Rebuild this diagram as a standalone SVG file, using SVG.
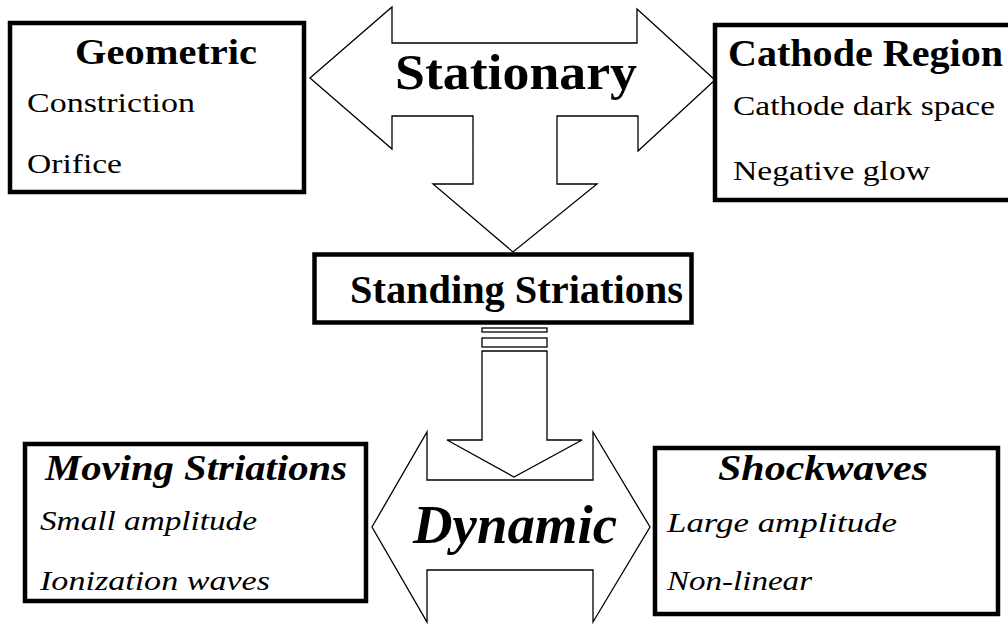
<svg xmlns="http://www.w3.org/2000/svg" width="1008" height="626" viewBox="0 0 1008 626">
<style>
.box{fill:#fff;stroke:#000;stroke-width:4.5}
.arr{fill:#fff;stroke:#000;stroke-width:1.3;stroke-linejoin:miter}
text{font-family:'Liberation Serif',serif;fill:#000}
.b{font-weight:bold}
.i{font-style:italic}
</style>
<rect width="1008" height="626" fill="#fff"/>
<g id="connectors" font-family="Liberation Serif, serif">
  <polygon class="arr" points="310,78 392,7 392,43 637,43 637,9 715,80 638,151 638,116 557,116 557,184 597,184 513,252 433,184 473,184 473,116 392,116 392,149"/>
  <text class="b" x="395" y="89" font-size="50" textLength="242" lengthAdjust="spacingAndGlyphs">Stationary</text>
  <polygon class="arr" points="372,527 427,432 427,480 593,480 593,432 650,527 593,622 593,570 427,570 427,622"/>
  <text class="b i" x="413" y="543" font-size="54" textLength="204" lengthAdjust="spacingAndGlyphs">Dynamic</text>
  <rect class="arr" x="482" y="328" width="65" height="4"/>
  <rect class="arr" x="482" y="338" width="65" height="9"/>
  <polygon class="arr" points="482,351 547,351 547,440 582,440 514,477 447,440 482,440"/>
</g>
<g id="geometric" font-family="Liberation Serif, serif">
  <rect class="box" x="10" y="23" width="294" height="169"/>
  <text class="b" x="75" y="64" font-size="36" textLength="182" lengthAdjust="spacingAndGlyphs">Geometric</text>
  <text x="27" y="112" font-size="28" textLength="168" lengthAdjust="spacingAndGlyphs">Constriction</text>
  <text x="27" y="173" font-size="28" textLength="95" lengthAdjust="spacingAndGlyphs">Orifice</text>
</g>
<g id="cathode" font-family="Liberation Serif, serif">
  <rect class="box" x="715" y="25" width="300" height="175"/>
  <text class="b" x="728" y="66" font-size="38" textLength="275" lengthAdjust="spacingAndGlyphs">Cathode Region</text>
  <text x="733" y="115" font-size="28" textLength="262" lengthAdjust="spacingAndGlyphs">Cathode dark space</text>
  <text x="733" y="180" font-size="28" textLength="197" lengthAdjust="spacingAndGlyphs">Negative glow</text>
</g>
<g id="standing" font-family="Liberation Serif, serif">
  <rect class="box" x="314.5" y="254.5" width="377" height="68" stroke-width="5"/>
  <text class="b" x="350" y="303" font-size="40" textLength="333" lengthAdjust="spacingAndGlyphs">Standing Striations</text>
</g>
<g id="moving" font-family="Liberation Serif, serif">
  <rect class="box" x="25" y="444" width="341" height="157"/>
  <text class="b i" x="45" y="480" font-size="36" textLength="302" lengthAdjust="spacingAndGlyphs">Moving Striations</text>
  <text class="i" x="40" y="530" font-size="28" textLength="217" lengthAdjust="spacingAndGlyphs">Small amplitude</text>
  <text class="i" x="40" y="590" font-size="28" textLength="230" lengthAdjust="spacingAndGlyphs">Ionization waves</text>
</g>
<g id="shockwaves" font-family="Liberation Serif, serif">
  <rect class="box" x="655" y="448" width="343" height="166"/>
  <text class="b i" x="718" y="480" font-size="36" textLength="210" lengthAdjust="spacingAndGlyphs">Shockwaves</text>
  <text class="i" x="667" y="532" font-size="28" textLength="230" lengthAdjust="spacingAndGlyphs">Large amplitude</text>
  <text class="i" x="667" y="590" font-size="28" textLength="145" lengthAdjust="spacingAndGlyphs">Non-linear</text>
</g>
</svg>
